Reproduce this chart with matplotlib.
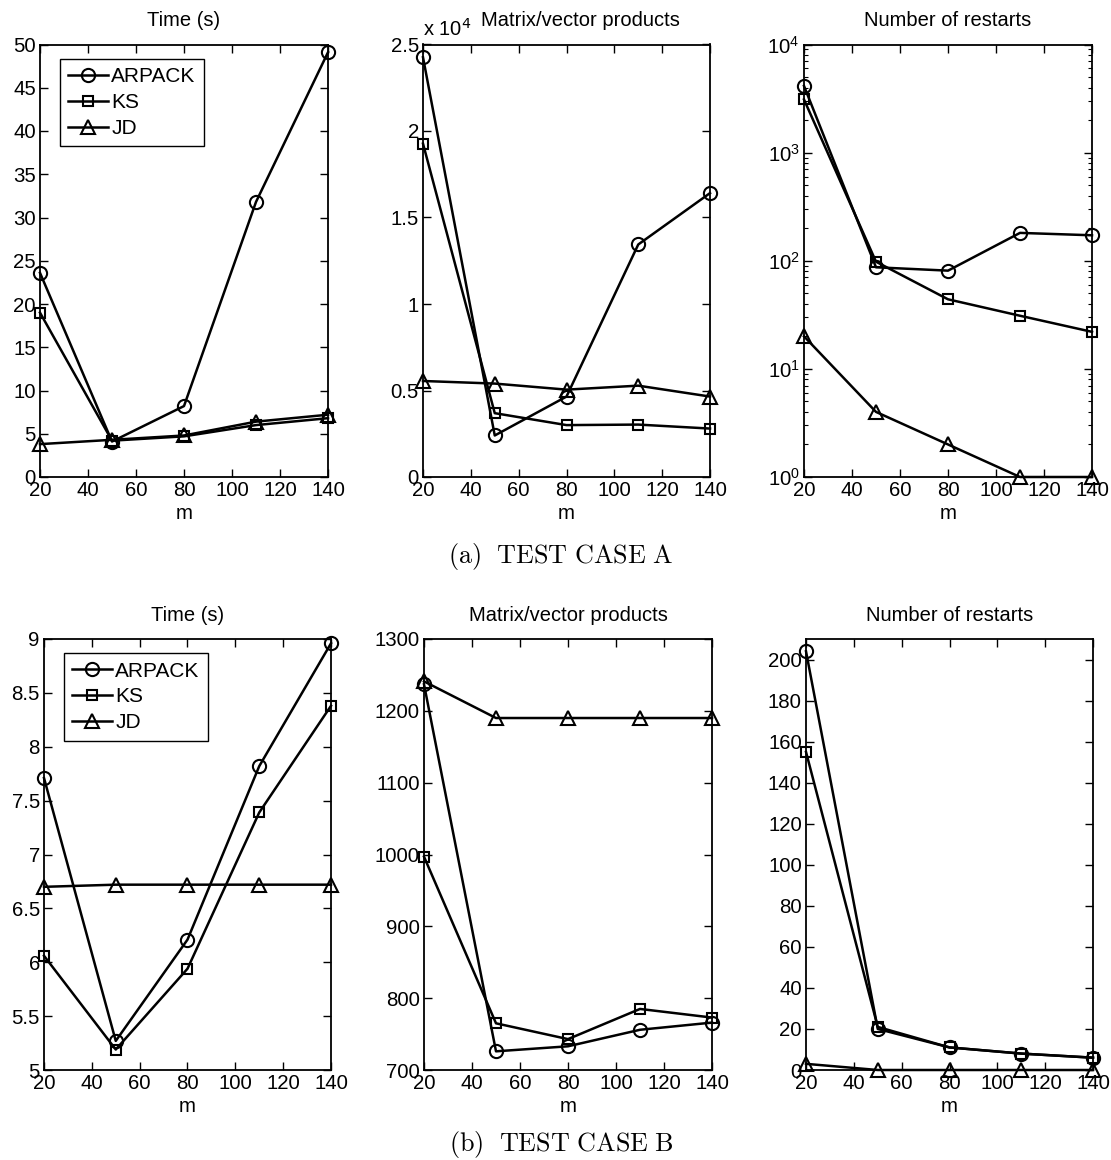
import matplotlib
matplotlib.use("Agg")
import matplotlib.pyplot as plt
from matplotlib.ticker import FuncFormatter, LogLocator, NullFormatter

plt.rcParams['font.family'] = ['Liberation Sans', 'DejaVu Sans']

m = [20, 50, 80, 110, 140]
methods = ["ARPACK", "KS", "JD"]
markers = ["o", "s", "^"]

# Test case A
a_time = {"ARPACK": [23.6, 4.1, 8.2, 31.8, 49.1],
          "KS": [19.0, 4.2, 4.7, 6.0, 6.8],
          "JD": [3.8, 4.3, 4.8, 6.4, 7.2]}
a_matvec = {"ARPACK": [24260, 2400, 4650, 13440, 16410],
            "KS": [19270, 3690, 3000, 3030, 2800],
            "JD": [5550, 5400, 5050, 5280, 4650]}
a_restarts = {"ARPACK": [4140, 87, 81, 181, 172],
              "KS": [3100, 98, 44, 31, 22],
              "JD": [20, 4, 2, 1, 1]}

# Test case B
b_time = {"ARPACK": [7.71, 5.27, 6.21, 7.82, 8.96],
          "KS": [6.06, 5.19, 5.94, 7.39, 8.38],
          "JD": [6.70, 6.72, 6.72, 6.72, 6.72]}
b_matvec = {"ARPACK": [1237, 726, 733, 756, 766],
            "KS": [997, 765, 743, 785, 773],
            "JD": [1241, 1190, 1190, 1190, 1190]}
b_restarts = {"ARPACK": [204, 20, 11, 8, 6],
              "KS": [155, 21, 11, 8, 6],
              "JD": [3, 0, 0, 0, 0]}

titles = ["Time (s)", "Matrix/vector products", "Number of restarts"]
captions = ["(a)\\ \\ TEST\\ CASE\\ A", "(b)\\ \\ TEST\\ CASE\\ B"]

FS_TICK = 14.7
FS_TITLE = 14.5
FS_LEG = 15

fig = plt.figure(figsize=(11.11, 11.60), dpi=100)
W, H = 1111.0, 1160.0


def make_ax(left, top, right, bottom):
    return fig.add_axes([left / W, 1 - bottom / H, (right - left) / W, (bottom - top) / H])


def style(ax):
    ax.tick_params(direction='in', top=True, right=True, length=6, width=1.0,
                   labelsize=FS_TICK, pad=3)
    ax.tick_params(which='minor', direction='in', top=True, right=True, length=3, width=0.8)
    for s in ax.spines.values():
        s.set_linewidth(1.3)
    ax.set_xlim(20, 140)
    ax.set_xticks([20, 40, 60, 80, 100, 120, 140])
    ax.set_xlabel("m", fontsize=FS_TICK, labelpad=3)


def plot_series(ax, data, legend=False):
    sizes = {"o": 9.5, "s": 7.5, "^": 10.5}
    for meth, mk in zip(methods, markers):
        ax.plot(m, data[meth], color='black', lw=1.8, marker=mk, markersize=sizes[mk],
                markerfacecolor='none', markeredgecolor='black', markeredgewidth=1.5,
                label=meth, clip_on=False, zorder=3)
    if legend:
        leg = ax.legend(loc='upper left', bbox_to_anchor=(0.07, 0.967), fontsize=FS_LEG,
                        fancybox=False, edgecolor='black', framealpha=1,
                        handlelength=1.9, handletextpad=0.15, borderpad=0.4,
                        labelspacing=0.33, borderaxespad=0)
        leg.get_frame().set_linewidth(1.0)


def gfmt(v, pos):
    return "%g" % v

# --- Row A  (axes pixel boxes: left, top, right, bottom)
ax = make_ax(40, 44.5, 328, 477)
plot_series(ax, a_time, legend=True)
style(ax)
ax.set_ylim(0, 50)
ax.set_yticks(range(0, 51, 5))
ax.set_title(titles[0], fontsize=FS_TITLE, pad=13)

ax = make_ax(423, 44.5, 710, 477)
plot_series(ax, a_matvec)
style(ax)
ax.set_ylim(0, 25000)
ax.set_yticks([0, 5000, 10000, 15000, 20000, 25000])
ax.yaxis.set_major_formatter(FuncFormatter(lambda v, p: "%g" % (v / 1e4)))
ax.text(0.0, 1.01, r"x 10$^{4}$", transform=ax.transAxes, fontsize=FS_TITLE, ha='left', va='bottom')
ax.set_title(titles[1], fontsize=FS_TITLE, pad=13, x=0.55)

ax = make_ax(804, 44.5, 1092, 477)
plot_series(ax, a_restarts)
ax.set_yscale('log')
style(ax)
ax.set_ylim(1, 1e4)
ax.yaxis.set_major_locator(LogLocator(base=10, numticks=10))
ax.yaxis.set_minor_locator(LogLocator(base=10, subs=range(2, 10), numticks=20))
ax.yaxis.set_minor_formatter(NullFormatter())
ax.set_title(titles[2], fontsize=FS_TITLE, pad=13)

fig.text(561 / W, 1 - 557 / H, r"$\mathrm{" + captions[0] + "}$", math_fontfamily='cm',
         fontsize=18.8, ha='center', va='center')

# --- Row B
ax = make_ax(44, 639, 331, 1070)
plot_series(ax, b_time, legend=True)
style(ax)
ax.set_ylim(5, 9)
ax.set_yticks([5, 5.5, 6, 6.5, 7, 7.5, 8, 8.5, 9])
ax.yaxis.set_major_formatter(FuncFormatter(gfmt))
ax.set_title(titles[0], fontsize=FS_TITLE, pad=13)

ax = make_ax(424, 639, 712, 1070)
plot_series(ax, b_matvec)
style(ax)
ax.set_ylim(700, 1300)
ax.set_yticks(range(700, 1301, 100))
ax.set_title(titles[1], fontsize=FS_TITLE, pad=13)

ax = make_ax(806, 639, 1093, 1070)
plot_series(ax, b_restarts)
style(ax)
ax.set_ylim(0, 210)
ax.set_yticks(range(0, 201, 20))
ax.set_title(titles[2], fontsize=FS_TITLE, pad=13)

fig.text(561 / W, 1 - 1145 / H, r"$\mathrm{" + captions[1] + "}$", math_fontfamily='cm',
         fontsize=18.8, ha='center', va='center')

fig.savefig("out.png", dpi=100)
